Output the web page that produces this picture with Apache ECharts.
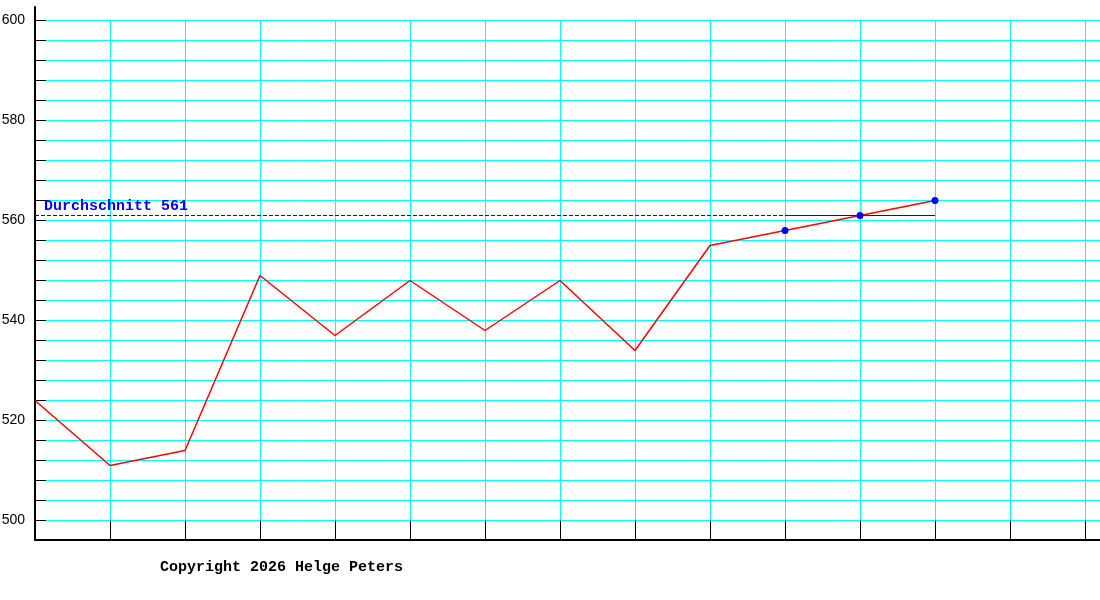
<!DOCTYPE html>
<html>
<head>
<meta charset="utf-8">
<script src="https://cdn.jsdelivr.net/npm/echarts@6/dist/echarts.min.js"></script>
<style>
html,body{margin:0;padding:0;background:#fff;}
#chart{width:1100px;height:600px;}
</style>
</head>
<body>
<div id="chart"></div>
<script>
// Werte je Messpunkt (Index 0..12)
var values = [524, 511, 514, 549, 537, 548, 538, 548, 534, 555, 558, 561, 564];
// Punkte mit Markierung
var marked = [10, 11, 12];
var average = 561;
var avgLabel = 'Durchschnitt ' + average;
var copyright = 'Copyright 2026 Helge Peters';
var yMin = 500, yMax = 600, yStep = 4, yLabelStep = 20;
var xMax = 15;

var myChart = echarts.init(document.getElementById('chart'), null, {devicePixelRatio: 1});

var lineData = values.map(function (v, i) {
    return {
        value: [i, v],
        symbol: marked.indexOf(i) >= 0 ? 'circle' : 'none'
    };
});
var firstMarked = marked[0];
var lastMarked = marked[marked.length - 1];

// Raster breiter als die Zeichenfläche, damit die letzte Linie außerhalb liegt
var gridRect = {left: 35, top: 20.5, height: 500, width: 1125, outerBoundsMode: 'none', containLabel: false};

var option = {
    animation: false,
    grid: [
        Object.assign({}, gridRect),
        Object.assign({}, gridRect),
        {left: 35, top: 7, bottom: 60, right: 0, outerBoundsMode: 'none'}
    ],
    xAxis: [
        {
            gridIndex: 0, type: 'value', min: 0, max: xMax, interval: 1,
            axisLine: {show: false}, axisTick: {show: false}, axisLabel: {show: false},
            splitLine: {show: true, lineStyle: {color: '#00ffff', width: 1}}
        },
        {
            gridIndex: 1, type: 'value', min: 0, max: xMax, interval: 1, z: 3,
            axisLine: {show: false},
            axisTick: {show: true, inside: false, length: 19, lineStyle: {color: '#000', width: 1}},
            axisLabel: {show: false}, splitLine: {show: false}
        },
        {
            gridIndex: 2, type: 'value', min: 0, max: 1, z: 4,
            axisLine: {show: true, lineStyle: {color: '#000', width: 2}},
            axisTick: {show: false}, axisLabel: {show: false}, splitLine: {show: false}
        }
    ],
    yAxis: [
        {
            gridIndex: 0, type: 'value', min: yMin, max: yMax, interval: yStep,
            axisLine: {show: false}, axisTick: {show: false}, axisLabel: {show: false},
            splitLine: {show: true, lineStyle: {color: '#00ffff', width: 1}}
        },
        {
            gridIndex: 1, type: 'value', min: yMin, max: yMax, interval: yStep, z: 3,
            axisLine: {show: false},
            axisTick: {show: true, inside: true, length: 11, lineStyle: {color: '#000', width: 1}},
            axisLabel: {
                show: true, margin: 10, color: '#000',
                fontFamily: 'Liberation Sans', fontSize: 14, padding: [3, 0, 0, 0],
                formatter: function (v) { return v % yLabelStep === 0 ? String(v) : ''; }
            },
            splitLine: {show: false}
        },
        {
            gridIndex: 2, type: 'value', min: 0, max: 1, z: 4,
            axisLine: {show: true, lineStyle: {color: '#000', width: 2}},
            axisTick: {show: false}, axisLabel: {show: false}, splitLine: {show: false}
        }
    ],
    series: [
        {
            name: 'Werte',
            type: 'line', xAxisIndex: 0, yAxisIndex: 0, z: 5,
            symbolSize: 7,
            itemStyle: {color: '#0000ff'},
            lineStyle: {color: '#ff0000', width: 1.5},
            data: lineData,
            markLine: {
                silent: true,
                symbol: ['none', 'none'],
                label: {show: false},
                emphasis: {disabled: true},
                lineStyle: {color: '#0000ff', width: 1, opacity: 1},
                data: [
                    [{coord: [0, average], lineStyle: {color: '#0000ff', type: [4, 2], width: 1}},
                     {coord: [firstMarked, average]}],
                    [{coord: [firstMarked, average], lineStyle: {color: '#0000ff', type: 'solid', width: 1}},
                     {coord: [lastMarked, average]}]
                ]
            }
        }
    ],
    graphic: [
        {
            type: 'text', left: 44, top: 199, z: 10,
            style: {text: avgLabel, fill: '#0000ff', font: 'bold 15px "Liberation Mono"'}
        },
        {
            type: 'text', left: 160, top: 560, z: 10,
            style: {text: copyright, fill: '#000', font: 'bold 15px "Liberation Mono"'}
        }
    ]
};

myChart.setOption(option);
</script>
</body>
</html>
